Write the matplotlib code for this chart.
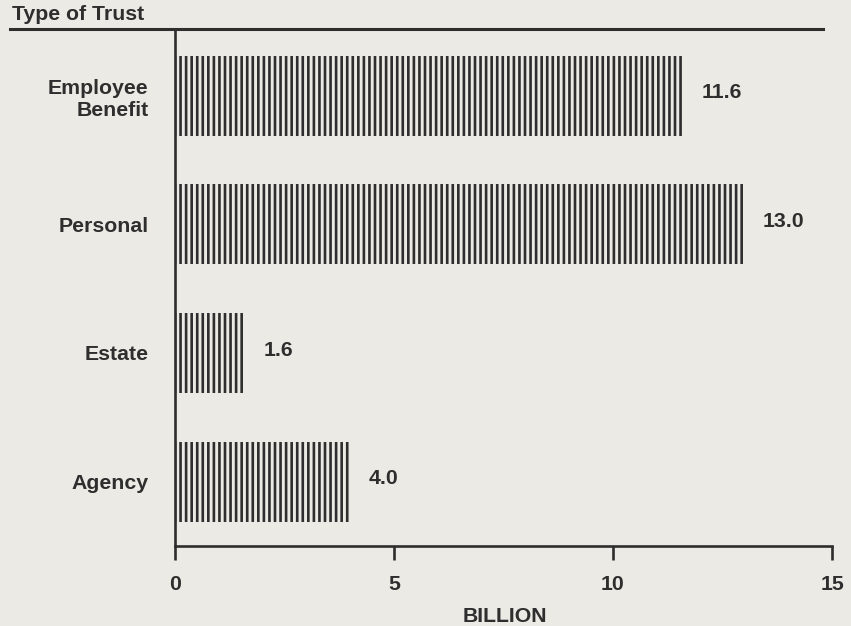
import matplotlib.pyplot as plt
from matplotlib.lines import Line2D

# Trust assets by type, billions of dollars
tipos = ["Employee\nBenefit", "Personal", "Estate", "Agency"]
valores = [11.6, 13.0, 1.6, 4.0]
etiquetas = ["11.6", "13.0", "1.6", "4.0"]
ticks_x = [0, 5, 10, 15]

fondo = "#ebeae4"
tinta = "#2e2e2e"
tam = 15.3

plt.rcParams["font.family"] = ["Liberation Sans", "DejaVu Sans"]
plt.rcParams["font.weight"] = "bold"
plt.rcParams["hatch.linewidth"] = 1.9

fig = plt.figure(figsize=(8.51, 6.26), dpi=100, facecolor=fondo)
ax = fig.add_axes([175 / 851, 1 - 546 / 626, (832 - 175) / 851, (546 - 30) / 626])
ax.set_facecolor(fondo)

pos = list(range(len(tipos)))[::-1]
ax.barh(pos, valores, height=0.62, color="none", edgecolor=tinta,
        linewidth=0, hatch="|||")

for p, v, t in zip(pos, valores, etiquetas):
    ax.annotate(t, (v, p), xytext=(13, 2), textcoords="offset points",
                va="center", ha="left", fontsize=tam, fontweight="bold", color=tinta)

ax.set_xlim(0, 15)
ax.set_ylim(-0.5, 3.51)
ax.set_xticks(ticks_x)
ax.set_xticklabels([str(t) for t in ticks_x])
ax.set_yticks(pos)
ax.set_yticklabels(tipos)

ax.tick_params(axis="x", direction="out", length=10, width=1.9, color=tinta,
               labelsize=tam, labelcolor=tinta, pad=11)
ax.tick_params(axis="y", length=0, labelsize=tam, labelcolor=tinta, pad=19)

for s in ["top", "right"]:
    ax.spines[s].set_visible(False)
for s in ["left", "bottom"]:
    ax.spines[s].set_linewidth(1.9)
    ax.spines[s].set_color(tinta)

# linea superior bajo el titulo
fig.add_artist(Line2D([10 / 851, 823 / 851], [1 - 29 / 626, 1 - 29 / 626],
                      color=tinta, linewidth=2.2, transform=fig.transFigure))
fig.text(12 / 851, 1 - 15 / 626, "Type of Trust", ha="left", va="center",
         fontsize=tam, fontweight="bold", color=tinta)
fig.text(505 / 851, 1 - 617 / 626, "BILLION", ha="center", va="center",
         fontsize=tam, fontweight="bold", color=tinta)

plt.savefig("out.png", dpi=100, facecolor=fondo)
